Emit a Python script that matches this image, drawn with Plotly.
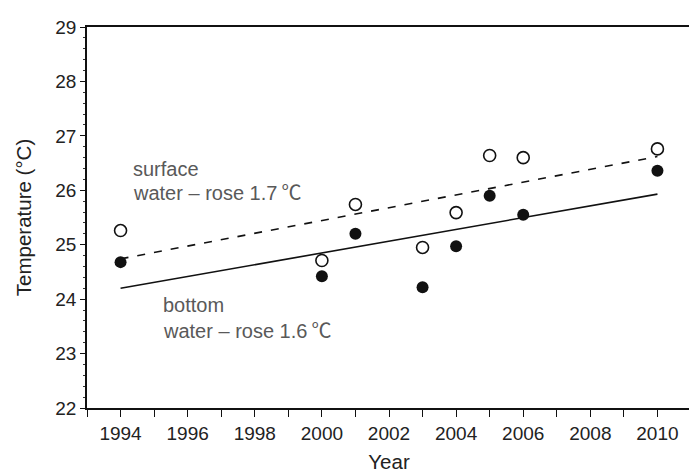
import plotly.graph_objects as go

years = [1994, 2000, 2001, 2003, 2004, 2005, 2006, 2010]
surface_temp = [25.26, 24.71, 25.74, 24.95, 25.59, 26.64, 26.60, 26.76]
bottom_temp = [24.68, 24.42, 25.20, 24.22, 24.97, 25.90, 25.55, 26.36]

trend_years = [1994, 2010]
surface_trend = [24.74, 26.62]
bottom_trend = [24.20, 25.93]

FONT = "Liberation Sans, Arial, Noto Sans CJK SC, sans-serif"

fig = go.Figure()
fig.add_trace(go.Scatter(x=trend_years, y=surface_trend, mode="lines",
                         line=dict(color="#111", width=1.6, dash="8px,9px"),
                         showlegend=False, hoverinfo="skip"))
fig.add_trace(go.Scatter(x=trend_years, y=bottom_trend, mode="lines",
                         line=dict(color="#111", width=1.6),
                         showlegend=False, hoverinfo="skip"))
fig.add_trace(go.Scatter(x=years, y=surface_temp, mode="markers",
                         marker=dict(symbol="circle-open", size=12, color="#111",
                                     line=dict(width=1.6)),
                         name="surface", showlegend=False))
fig.add_trace(go.Scatter(x=years, y=bottom_temp, mode="markers",
                         marker=dict(symbol="circle", size=12, color="#111"),
                         name="bottom", showlegend=False))

ann_font = dict(family=FONT, size=20, color="#595959")
annotations = [
    dict(x=1994.31, y=26.40, text="surface"),
    dict(x=1994.31, y=25.95, text="water – rose 1.7\u2009℃"),
    dict(x=1995.2, y=23.885, text="bottom"),
    dict(x=1995.2, y=23.42, text="water – rose 1.6\u2009℃"),
]
for a in annotations:
    fig.add_annotation(x=a["x"], y=a["y"], text=a["text"], showarrow=False,
                       xanchor="left", yanchor="middle", font=ann_font)

fig.update_layout(
    width=697, height=475,
    margin=dict(l=79, r=14, t=9, b=75),
    paper_bgcolor="white", plot_bgcolor="white",
    font=dict(family=FONT, size=19, color="#222"),
)
fig.update_xaxes(
    range=[1993, 2011], tick0=1994, dtick=2,
    ticks="outside", ticklen=7, tickwidth=1.3, tickcolor="#111",
    minor=dict(dtick=1, tick0=1993, ticks="outside", ticklen=7, tickwidth=1.3, tickcolor="#111"),
    showline=True, linecolor="#111", linewidth=1.6, mirror=True,
    showgrid=False, zeroline=False,
    title=dict(text="Year", font=dict(size=20.5), standoff=12),
    tickfont=dict(size=19),
)
fig.update_yaxes(
    range=[22, 29], tick0=22, dtick=1,
    ticks="outside", ticklen=5, tickwidth=1.3, tickcolor="#111",
    minor=dict(dtick=0.2, ticks="outside", ticklen=2, tickwidth=1, tickcolor="#333"),
    showline=True, linecolor="#111", linewidth=1.6, mirror=True,
    showgrid=False, zeroline=False,
    title=dict(text="Temperature (°C)", font=dict(size=20.5), standoff=18),
    tickfont=dict(size=19),
)

fig.write_html("out.html")
